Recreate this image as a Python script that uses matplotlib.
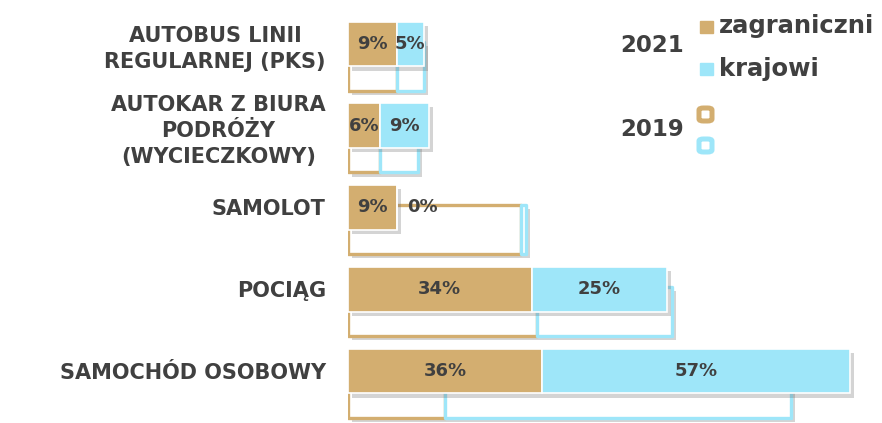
import matplotlib.pyplot as plt
import matplotlib.patheffects as pe
from matplotlib.patches import Rectangle, FancyBboxPatch

# dane
kategorie = ["AUTOBUS LINII\nREGULARNEJ (PKS)", "AUTOKAR Z BIURA\nPODRÓŻY\n(WYCIECZKOWY)",
             "SAMOLOT", "POCIĄG", "SAMOCHÓD OSOBOWY"]
zagr_2021 = [9, 6, 9, 34, 36]
kraj_2021 = [5, 9, 0, 25, 57]
zagr_2019 = [9, 6, 32, 35, 18]
kraj_2019 = [5, 7, 1, 25, 64]

TAN = "#D3AE70"
BLUE = "#9EE6F9"
DARK = "#404040"

W, H = 882, 423
fig = plt.figure(figsize=(W / 100, H / 100), dpi=100)
ax = fig.add_axes([348 / W, 0, 522 / W, 1])
ax.set_xlim(0, 522 / 5.4)
ax.set_ylim(4.636, -0.538)

y = list(range(len(kategorie)))
y19 = [v + 0.27 for v in y]

cien = [pe.SimplePatchShadow(offset=(3, -3), shadow_rgbFace="0.4", alpha=0.28), pe.Normal()]

# 2019 - tylko kontur
b1 = ax.barh(y19, zagr_2019, height=0.6, color="white", edgecolor=TAN, linewidth=2.4, zorder=1)
b2 = ax.barh(y19, kraj_2019, left=zagr_2019, height=0.6, color="white", edgecolor=BLUE,
             linewidth=2.4, zorder=1.5)
for b in list(b1) + list(b2):
    b.set_joinstyle("round")
    b.set_path_effects(cien)

# 2021 - wypelnione
c1 = ax.barh(y, zagr_2021, height=0.55, color=TAN, edgecolor="white", linewidth=1.2, zorder=3)
c2 = ax.barh(y, kraj_2021, left=zagr_2021, height=0.55, color=BLUE, edgecolor="white",
             linewidth=1.2, zorder=3)
for b in list(c1) + list(c2):
    b.set_path_effects(cien)

for i in y:
    ax.text(zagr_2021[i] / 2, i, f"{zagr_2021[i]}%", ha="center", va="center",
            fontsize=13, fontweight="bold", color=DARK, zorder=5)
    if kraj_2021[i] == 0:
        ax.text(zagr_2021[i] + 2, i, f"{kraj_2021[i]}%", ha="left", va="center",
                fontsize=13, fontweight="bold", color=DARK, zorder=5)
    else:
        ax.text(zagr_2021[i] + kraj_2021[i] / 2, i, f"{kraj_2021[i]}%", ha="center",
                va="center", fontsize=13, fontweight="bold", color=DARK, zorder=5)

ax.set_yticks(y)
ax.set_yticklabels(kategorie, fontsize=15, fontweight="bold", color=DARK, linespacing=1.4)
for lab in ax.get_yticklabels():
    lab.set_multialignment("center")
ax.tick_params(axis="y", length=0, pad=16)
ax.set_xticks([])
for s in ax.spines.values():
    s.set_visible(False)
ax.patch.set_alpha(0)

# legenda
def fx(px):
    return px / W

def fy(py):
    return 1 - py / H

fig.text(fx(652), fy(46), "2021", ha="center", va="center", fontsize=16.5,
         fontweight="bold", color=DARK)
fig.text(fx(652), fy(130), "2019", ha="center", va="center", fontsize=16.5,
         fontweight="bold", color=DARK)
fig.add_artist(Rectangle((fx(700), fy(33)), 13 / W, 12 / H, color=TAN, transform=fig.transFigure))
fig.add_artist(Rectangle((fx(700), fy(75)), 13 / W, 12 / H, color=BLUE, transform=fig.transFigure))
fig.text(fx(719), fy(26), "zagraniczni", ha="left", va="center", fontsize=17.5,
         fontweight="bold", color=DARK)
fig.text(fx(719), fy(69), "krajowi", ha="left", va="center", fontsize=17.5,
         fontweight="bold", color=DARK)
for py, col in [(121, TAN), (152, BLUE)]:
    fig.add_artist(FancyBboxPatch((fx(699), fy(py)), 13 / W, 13 / H,
                                  boxstyle="round,pad=0,rounding_size=0.005",
                                  facecolor="white", edgecolor=col, linewidth=3.6,
                                  transform=fig.transFigure))

fig.savefig("out.png", dpi=100)
